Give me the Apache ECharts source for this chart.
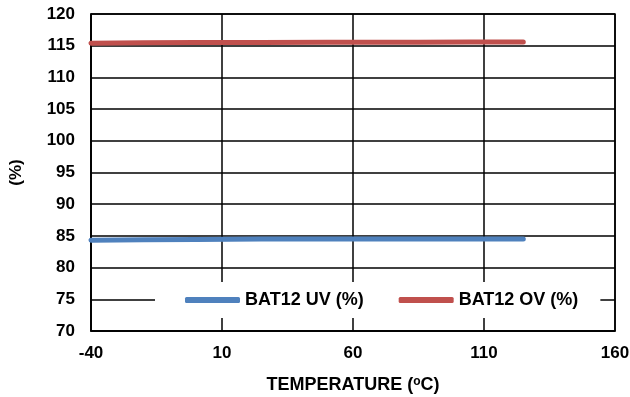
<!DOCTYPE html>
<html>
<head>
<meta charset="utf-8">
<script src="https://cdn.jsdelivr.net/npm/echarts@6/dist/echarts.min.js"></script>
<style>
  html, body { margin: 0; padding: 0; background: #fff; }
  #chart { width: 630px; height: 397px; }
</style>
</head>
<body>
<div id="chart"></div>
<script>
// temperatures (°C) and the two thresholds (%)
var temps = [-40, -20, 0, 25, 50, 85, 105, 125];
var uvValues = [84.3, 84.4, 84.45, 84.5, 84.5, 84.5, 84.5, 84.5];
var ovValues = [115.4, 115.45, 115.5, 115.5, 115.55, 115.55, 115.6, 115.6];

// x axis starts at -40 with a 50 step: shift so ticks land on -40, 10, 60...
var X_OFFSET = 40;

function pairs(xs, ys) {
  var out = [];
  for (var i = 0; i < xs.length; i++) {
    out.push([xs[i] + X_OFFSET, ys[i]]);
  }
  return out;
}

var chart = echarts.init(document.getElementById('chart'), null, { renderer: 'canvas' });
var fontFamily = '"Liberation Sans", Arial, sans-serif';

var option = {
  backgroundColor: '#ffffff',
  animation: false,
  grid: {
    left: 91,
    right: 15,
    top: 14,
    bottom: 66,
    outerBoundsMode: 'none',
    show: true,
    borderColor: '#000',
    borderWidth: 1.5
  },
  legend: {
    left: 155,
    top: 282,
    backgroundColor: '#ffffff',
    padding: [9, 22, 9, 30],
    itemGap: 35,
    itemWidth: 55,
    itemHeight: 6,
    icon: 'roundRect',
    textStyle: { fontFamily: fontFamily, fontWeight: 'bold', fontSize: 18, color: '#000' },
    data: ['BAT12 UV (%)', 'BAT12 OV (%)']
  },
  xAxis: {
    type: 'value',
    min: 0,
    max: 200,
    interval: 50,
    name: 'TEMPERATURE ({sup|o}C)',
    nameLocation: 'middle',
    nameGap: 45,
    nameTextStyle: {
      fontFamily: fontFamily, fontWeight: 'bold', fontSize: 18, color: '#000',
      rich: {
        sup: { fontFamily: fontFamily, fontWeight: 'bold', fontSize: 12, color: '#000', verticalAlign: 'top', padding: [0, 0, 6, 0] }
      }
    },
    axisLine: { lineStyle: { color: '#000', width: 1.5 } },
    axisTick: { show: false },
    axisLabel: {
      fontFamily: fontFamily, fontWeight: 'bold', fontSize: 17, color: '#000', margin: 14,
      formatter: function (v) { return String(v - X_OFFSET); }
    },
    splitLine: { show: true, lineStyle: { color: '#000', width: 1.5 } }
  },
  yAxis: {
    type: 'value',
    min: 70,
    max: 120,
    interval: 5,
    name: '(%)',
    nameLocation: 'middle',
    nameRotate: 90,
    nameGap: 66,
    nameTextStyle: { fontFamily: fontFamily, fontWeight: 'bold', fontSize: 17, color: '#000' },
    axisLine: { lineStyle: { color: '#000', width: 1.5 } },
    axisTick: { show: false },
    axisLabel: { fontFamily: fontFamily, fontWeight: 'bold', fontSize: 17, color: '#000', margin: 16 },
    splitLine: { show: true, lineStyle: { color: '#000', width: 1.5 } }
  },
  series: [
    {
      name: 'BAT12 UV (%)',
      type: 'line',
      data: pairs(temps, uvValues),
      showSymbol: false,
      color: '#4F81BD',
      lineStyle: { width: 5, color: '#4F81BD', cap: 'round' }
    },
    {
      name: 'BAT12 OV (%)',
      type: 'line',
      data: pairs(temps, ovValues),
      showSymbol: false,
      color: '#C0504D',
      lineStyle: { width: 5, color: '#C0504D', cap: 'round' }
    }
  ]
};

chart.setOption(option);
</script>
</body>
</html>
